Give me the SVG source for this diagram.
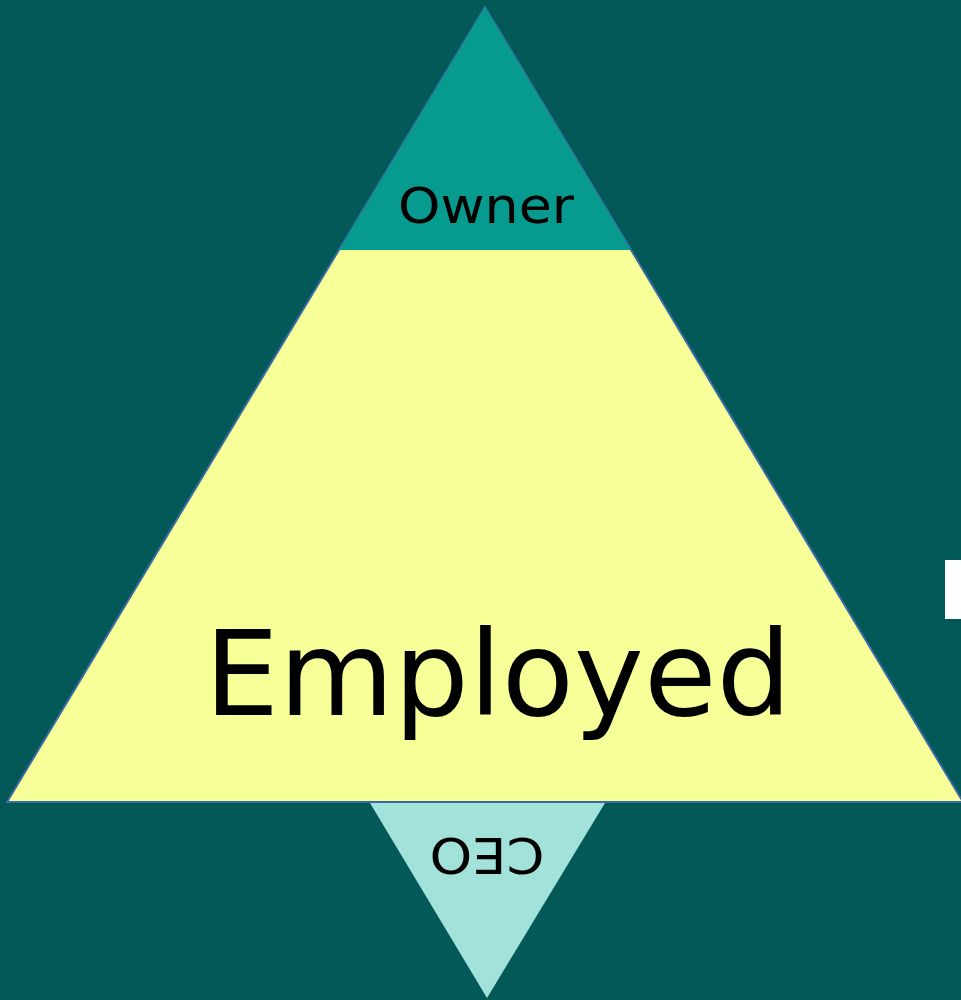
<svg xmlns="http://www.w3.org/2000/svg" width="961" height="1000" viewBox="0 0 961 1000">
  <style>
    .lbl { font-family: "DejaVu Sans", "Open Sans", sans-serif; fill: #000; text-anchor: middle; }
  </style>
  <rect width="961" height="1000" fill="#035858"/>
  <g id="employed">
    <polygon points="485,7 963,802 7,802" fill="#f7ff98" stroke="#3a69a6" stroke-width="2"/>
    <text class="lbl" x="498" y="715" font-size="118" textLength="587" lengthAdjust="spacingAndGlyphs">Employed</text>
  </g>
  <g id="owner">
    <polygon points="485,7 631,250 339,250" fill="#079a8f"/>
    <text class="lbl" x="486" y="223" font-size="50" textLength="176" lengthAdjust="spacingAndGlyphs">Owner</text>
  </g>
  <g id="ceo">
    <polygon points="370,803 605,803 487,998" fill="#a2e2da"/>
    <text class="lbl" transform="translate(487,838) rotate(180)" x="0" y="0" font-size="50" textLength="115" lengthAdjust="spacingAndGlyphs">CEO</text>
  </g>
  <g id="marker-box">
    <rect x="945" y="560" width="16" height="59" fill="#ffffff"/>
  </g>
  <g id="connectors"/>
</svg>
